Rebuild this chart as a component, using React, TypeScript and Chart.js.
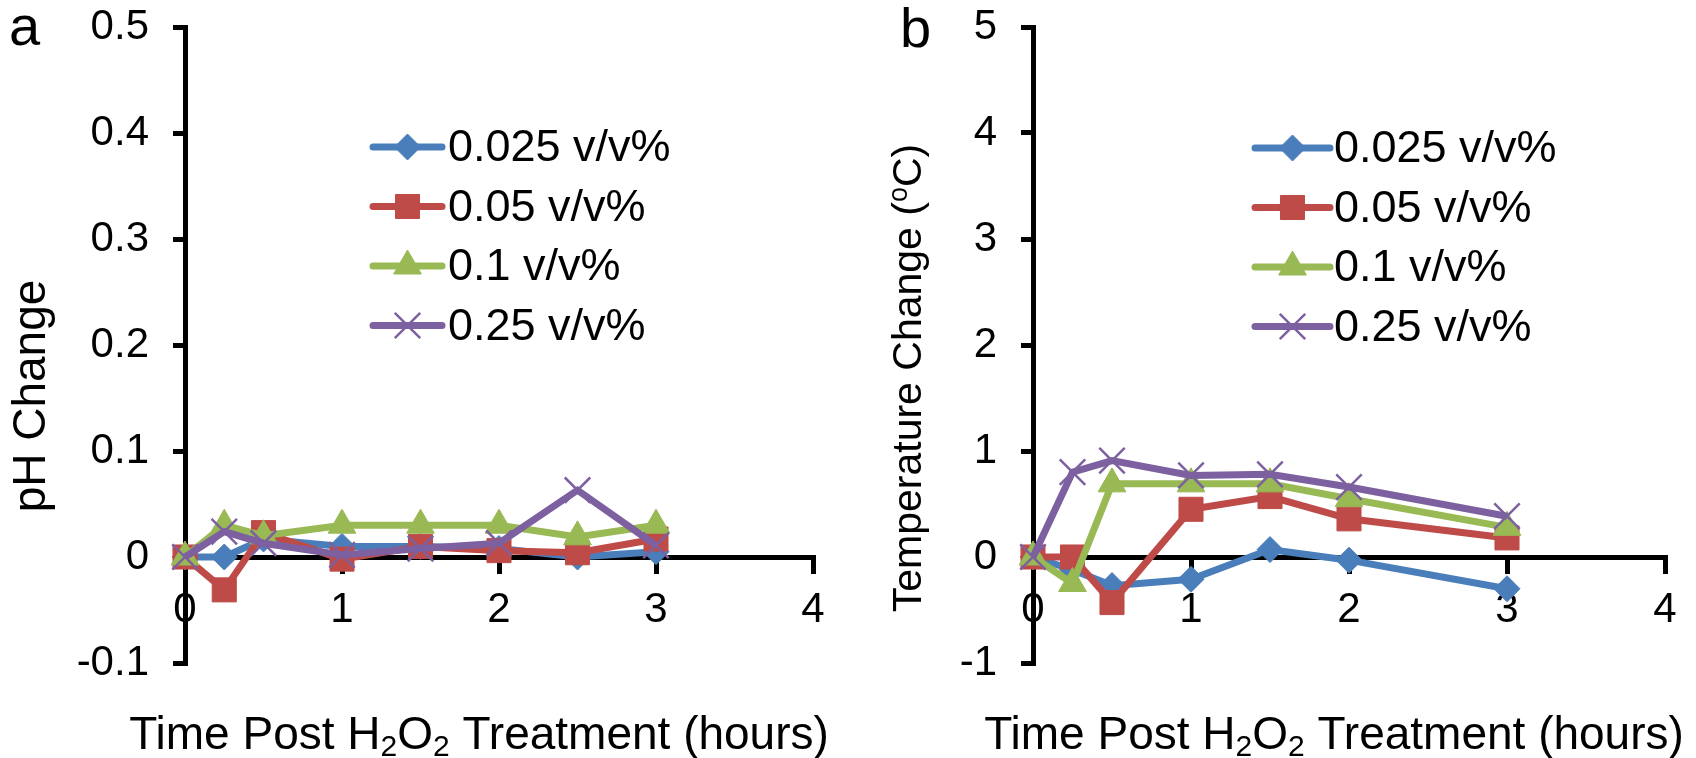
import React, { useEffect, useRef } from 'react';
import { Chart, registerables } from 'chart.js';

Chart.register(...registerables);

const FONT = "'Liberation Sans', Arial, Helvetica, sans-serif";

// ---------- data ----------
const seriesLabels = ['0.025 v/v%', '0.05 v/v%', '0.1 v/v%', '0.25 v/v%'];
const seriesColors = ['#4A7EBB', '#BE4B48', '#98B954', '#7D60A0'];

// Panel a: pH change
const timeA = [0, 0.25, 0.5, 1, 1.5, 2, 2.5, 3];
const phBlue = [0, 0, 0.017, 0.01, 0.01, 0.008, 0, 0.005];
const phRed = [0, -0.031, 0.023, -0.002, 0.01, 0.006, 0.004, 0.017];
const phGreen = [0, 0.03, 0.02, 0.03, 0.03, 0.03, 0.019, 0.03];
const phPurple = [0, 0.024, 0.013, 0.002, 0.008, 0.013, 0.063, 0.011];

// Panel b: temperature change
const timeB = [0, 0.25, 0.5, 1, 1.5, 2, 3];
const tBlue = [0, -0.12, -0.27, -0.21, 0.07, -0.03, -0.3];
const tRed = [0, 0, -0.43, 0.45, 0.57, 0.36, 0.18];
const tGreen = [0, -0.25, 0.69, 0.69, 0.69, 0.55, 0.28];
const tPurple = [0, 0.8, 0.91, 0.77, 0.78, 0.66, 0.385];

const xTickMin = 0;
const xTickMax = 4;
const phMin = -0.1;
const phMax = 0.5;
const phStep = 0.1;
const tMin = -1;
const tMax = 5;
const tStep = 1;

// ---------- styling ----------
const markerStyles = ['rectRot', 'rect', 'triangle', 'crossRot'];
const markerRadii = [13, 17, 16, 18];
const markerBorder = [1, 1, 1, 2.5];

type Seg = { t: string; sub?: boolean; sup?: boolean };

function drawSegments(ctx: CanvasRenderingContext2D, segs: Seg[], size: number, cx: number, y: number) {
  const small = Math.round(size * 0.65);
  let total = 0;
  const widths = segs.map((s) => {
    ctx.font = `${s.sub || s.sup ? small : size}px ${FONT}`;
    const w = ctx.measureText(s.t).width;
    total += w;
    return w;
  });
  let x = cx - total / 2;
  ctx.textAlign = 'left';
  ctx.textBaseline = 'alphabetic';
  segs.forEach((s, i) => {
    ctx.font = `${s.sub || s.sup ? small : size}px ${FONT}`;
    const dy = s.sub ? size * 0.16 : s.sup ? -size * 0.33 : 0;
    ctx.fillText(s.t, x, y + dy);
    x += widths[i];
  });
}

function drawMarker(ctx: CanvasRenderingContext2D, style: string, x: number, y: number, r: number, color: string, bw: number) {
  ctx.save();
  ctx.fillStyle = color;
  ctx.strokeStyle = color;
  ctx.lineWidth = bw;
  ctx.beginPath();
  if (style === 'rectRot') {
    ctx.moveTo(x, y - r);
    ctx.lineTo(x + r, y);
    ctx.lineTo(x, y + r);
    ctx.lineTo(x - r, y);
    ctx.closePath();
    ctx.fill();
    ctx.stroke();
  } else if (style === 'rect') {
    const s = r * Math.SQRT1_2;
    ctx.rect(x - s, y - s, 2 * s, 2 * s);
    ctx.fill();
    ctx.stroke();
  } else if (style === 'triangle') {
    ctx.moveTo(x, y - r);
    ctx.lineTo(x + 0.866 * r, y + 0.5 * r);
    ctx.lineTo(x - 0.866 * r, y + 0.5 * r);
    ctx.closePath();
    ctx.fill();
    ctx.stroke();
  } else {
    const o = r * Math.SQRT1_2;
    ctx.moveTo(x - o, y - o);
    ctx.lineTo(x + o, y + o);
    ctx.moveTo(x + o, y - o);
    ctx.lineTo(x - o, y + o);
    ctx.stroke();
  }
  ctx.restore();
}

const decoPlugin = {
  id: 'deco',
  afterDraw(chart: any, _args: any, opts: any) {
    const ctx: CanvasRenderingContext2D = chart.ctx;
    ctx.save();
    ctx.fillStyle = '#000';
    // panel letter
    ctx.font = `56px ${FONT}`;
    ctx.textAlign = 'left';
    ctx.textBaseline = 'alphabetic';
    ctx.fillText(opts.letter, opts.letterX, opts.letterY);
    // y title (rotated)
    ctx.save();
    ctx.translate(opts.yTitleX, opts.yTitleY);
    ctx.rotate(-Math.PI / 2);
    drawSegments(ctx, opts.yTitle, opts.yTitleSize, 0, 0);
    ctx.restore();
    // x title
    drawSegments(ctx, opts.xTitle, 46, opts.xTitleX, opts.xTitleY);
    // legend
    chart.data.datasets.forEach((ds: any, i: number) => {
      const y = opts.legY + i * opts.legDy;
      ctx.save();
      ctx.strokeStyle = ds.borderColor;
      ctx.lineWidth = 7;
      ctx.lineCap = 'round';
      ctx.beginPath();
      ctx.moveTo(opts.legX0, y);
      ctx.lineTo(opts.legX1, y);
      ctx.stroke();
      ctx.restore();
      drawMarker(ctx, ds.pointStyle, (opts.legX0 + opts.legX1) / 2, y, ds.pointRadius, ds.borderColor, ds.pointBorderWidth);
      ctx.fillStyle = '#000';
      ctx.font = `45px ${FONT}`;
      ctx.textAlign = 'left';
      ctx.textBaseline = 'middle';
      ctx.fillText(ds.label, opts.legTextX, y + 2);
    });
    ctx.restore();
  },
};

function makeConfig(xs: number[], series: number[][], yMin: number, yMax: number, yStep: number, yFmt: (v: number) => string, padRight: number, deco: any) {
  return {
    type: 'line' as const,
    data: {
      datasets: series.map((vals, i) => ({
        label: seriesLabels[i],
        data: xs.map((x, j) => ({ x, y: vals[j] })),
        borderColor: seriesColors[i],
        backgroundColor: seriesColors[i],
        borderWidth: 7,
        pointStyle: markerStyles[i],
        pointRadius: markerRadii[i],
        pointBorderWidth: markerBorder[i],
        pointBackgroundColor: seriesColors[i],
        pointBorderColor: seriesColors[i],
        tension: 0,
        clip: false,
        order: 3 - i,
      })),
    },
    options: {
      responsive: false,
      animation: false,
      layout: { padding: { left: 0, right: padRight, top: 27, bottom: 95 } },
      plugins: {
        legend: { display: false },
        tooltip: { enabled: false },
        deco,
      },
      scales: {
        x: {
          type: 'linear',
          min: xTickMin,
          max: xTickMax,
          position: { y: 0 },
          ticks: {
            stepSize: 1,
            font: { family: FONT, size: 42 },
            color: '#000',
            padding: 14,
            maxRotation: 0,
            autoSkip: false,
            callback: (v: any) => String(v),
          },
          grid: { drawOnChartArea: false, drawTicks: true, tickLength: 14, color: '#000', lineWidth: 5 },
          border: { display: true, color: '#000', width: 5 },
        },
        y: {
          type: 'linear',
          min: yMin,
          max: yMax,
          afterFit: (s: any) => {
            s.width = 185;
            s.paddingTop = 0;
            s.paddingBottom = 0;
          },
          ticks: {
            stepSize: yStep,
            font: { family: FONT, size: 42 },
            color: '#000',
            padding: 24,
            callback: (v: any) => yFmt(Number(v)),
          },
          grid: { drawOnChartArea: false, drawTicks: true, tickLength: 12, color: '#000', lineWidth: 5 },
          border: { display: true, color: '#000', width: 5 },
        },
      },
    },
    plugins: [decoPlugin],
  };
}

const xTitleSegs: Seg[] = [
  { t: 'Time Post H' },
  { t: '2', sub: true },
  { t: 'O' },
  { t: '2', sub: true },
  { t: ' Treatment (hours)' },
];

function Panel({ config, left }: { config: any; left: number }) {
  const ref = useRef<HTMLCanvasElement | null>(null);
  useEffect(() => {
    if (!ref.current) return;
    const chart = new Chart(ref.current, config);
    return () => chart.destroy();
  }, [config]);
  return (
    <canvas
      ref={ref}
      width={848}
      height={758}
      style={{ position: 'absolute', left, top: 0, width: 848, height: 758 }}
    />
  );
}

const configA = makeConfig(
  timeA,
  [phBlue, phRed, phGreen, phPurple],
  phMin,
  phMax,
  phStep,
  (v) => (Math.abs(v) < 1e-9 ? '0' : v.toFixed(1)),
  35,
  {
    letter: 'a',
    letterX: 9,
    letterY: 45,
    yTitle: [{ t: 'pH Change' }],
    yTitleSize: 46,
    yTitleX: 45,
    yTitleY: 396,
    xTitle: xTitleSegs,
    xTitleX: 479,
    xTitleY: 749,
    legX0: 373,
    legX1: 442,
    legTextX: 448,
    legY: 147,
    legDy: 59.5,
  }
);

const configB = makeConfig(
  timeB,
  [tBlue, tRed, tGreen, tPurple],
  tMin,
  tMax,
  tStep,
  (v) => String(Math.round(v)),
  31,
  {
    letter: 'b',
    letterX: 52,
    letterY: 47,
    yTitle: [{ t: 'Temperature Change (' }, { t: 'o', sup: true }, { t: 'C)' }],
    yTitleSize: 41,
    yTitleX: 73,
    yTitleY: 378,
    xTitle: xTitleSegs,
    xTitleX: 486,
    xTitleY: 749,
    legX0: 407,
    legX1: 482,
    legTextX: 486,
    legY: 148,
    legDy: 59.5,
  }
);

export default function App() {
  return (
    <div style={{ position: 'fixed', left: 0, top: 0, width: 1696, height: 758, background: '#fff', overflow: 'hidden' }}>
      <Panel config={configA} left={0} />
      <Panel config={configB} left={848} />
    </div>
  );
}
